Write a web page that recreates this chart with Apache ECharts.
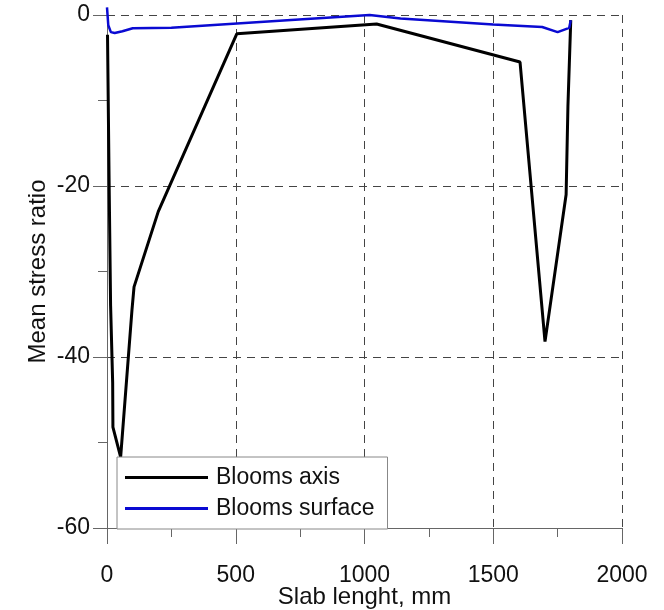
<!DOCTYPE html>
<html>
<head>
<meta charset="utf-8">
<script src="https://cdn.jsdelivr.net/npm/echarts@6/dist/echarts.min.js"></script>
<style>html,body{margin:0;padding:0;background:#fff}#c{width:664px;height:610px}</style>
</head>
<body>
<div id="c"></div>
<script>
// Slab length (mm) and mean stress ratio
var axisX = [2, 8, 14, 22, 23, 53, 97, 105, 199, 504, 1047, 1604, 1701, 1783, 1790, 1801];
var axisY = [-2.3, -19, -34, -43, -48.2, -51.7, -34.5, -31.8, -23, -2.2, -1.05, -5.5, -38.2, -21, -10.7, -0.6];
var surfX = [0, 5, 15, 30, 60, 100, 250, 400, 700, 1020, 1140, 1500, 1690, 1750, 1795, 1801];
var surfY = [0.9, -1.2, -2.0, -2.1, -1.9, -1.55, -1.5, -1.2, -0.6, 0, -0.4, -1.1, -1.4, -2.0, -1.5, -0.6];
var seriesNames = ['Blooms axis', 'Blooms surface'];
var xName = 'Slab lenght, mm';
var yName = 'Mean stress ratio';

function pairs(xs, ys) { return xs.map(function (x, i) { return [x, ys[i]]; }); }

var font = 'Liberation Sans, Arial, sans-serif';
var chart = echarts.init(document.getElementById('c'));
chart.setOption({
  animation: false,
  backgroundColor: '#fff',
  grid: { left: 107, right: 42, top: 15, bottom: 82, containLabel: false, outerBoundsMode: 'none' },
  legend: {
    orient: 'vertical',
    left: 117, top: 457,
    padding: [9, 13, 9, 8],
    itemGap: 8,
    itemWidth: 83,
    itemHeight: 3,
    icon: 'rect',
    backgroundColor: '#fff',
    borderColor: '#888',
    borderWidth: 1,
    borderRadius: 0,
    textStyle: { fontFamily: font, fontSize: 23, color: '#111', lineHeight: 23, padding: [0, 0, 0, 3] },
    data: seriesNames
  },
  xAxis: {
    type: 'value', min: 0, max: 2000, interval: 500,
    name: xName, nameLocation: 'middle', nameGap: 57, nameMoveOverlap: false,
    nameTextStyle: { fontFamily: font, fontSize: 24, color: '#111' },
    axisLine: { show: true, onZero: false, lineStyle: { color: '#666', width: 1 } },
    axisTick: { show: true, inside: false, length: 16, lineStyle: { color: '#666' } },
    minorTick: { show: true, splitNumber: 2, length: 9, lineStyle: { color: '#666' } },
    axisLabel: { fontFamily: font, fontSize: 23, color: '#111', margin: 36, formatter: function (v) { return String(v); } },
    splitLine: { show: true, lineStyle: { color: '#444', type: [8, 6], width: 1 } }
  },
  yAxis: {
    type: 'value', min: -60, max: 0, interval: 20,
    name: yName, nameLocation: 'middle', nameGap: 57, nameMoveOverlap: false,
    nameTextStyle: { fontFamily: font, fontSize: 24, color: '#111' },
    axisLine: { show: true, onZero: false, lineStyle: { color: '#666', width: 1 } },
    axisTick: { show: true, inside: false, length: 14, lineStyle: { color: '#666' } },
    minorTick: { show: true, splitNumber: 2, length: 9, lineStyle: { color: '#666' } },
    axisLabel: { fontFamily: font, fontSize: 23, color: '#111', margin: 17, formatter: function (v) { return String(v); } },
    splitLine: { show: true, lineStyle: { color: '#444', type: [8, 6], width: 1 } }
  },
  series: [
    {
      name: seriesNames[0], type: 'line', data: pairs(axisX, axisY),
      symbol: 'none', clip: false,
      lineStyle: { color: '#000', width: 3 }, itemStyle: { color: '#000' }
    },
    {
      name: seriesNames[1], type: 'line', data: pairs(surfX, surfY),
      symbol: 'none', clip: false,
      lineStyle: { color: '#0a0ad2', width: 2.5 }, itemStyle: { color: '#0a0ad2' }
    }
  ]
});
</script>
</body>
</html>
